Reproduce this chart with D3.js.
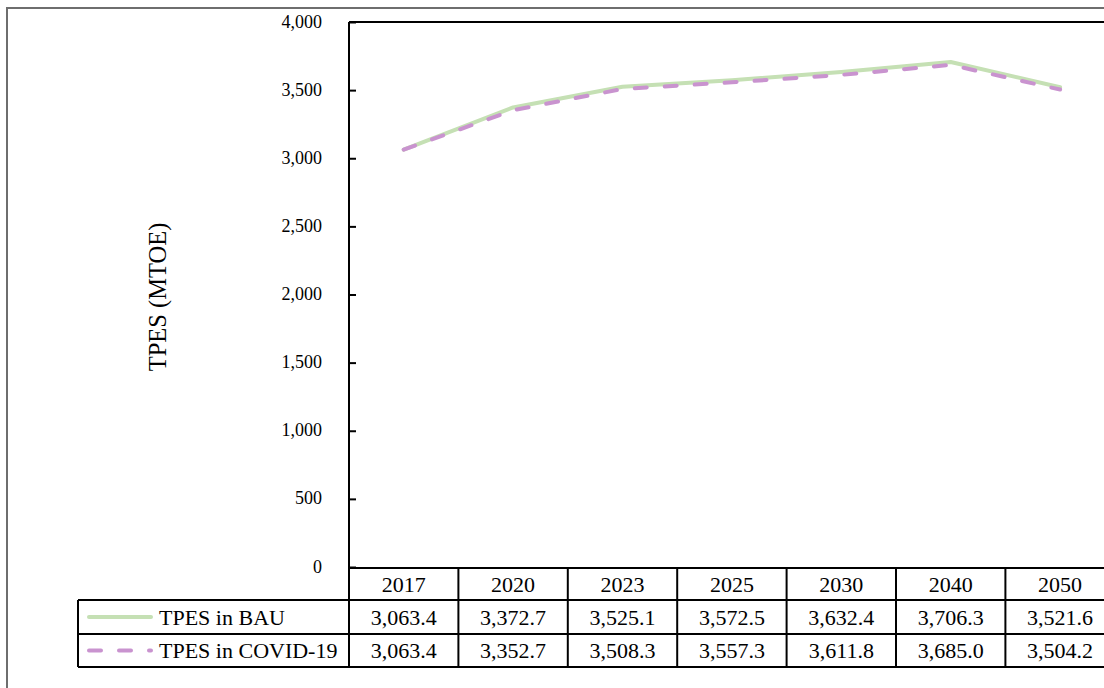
<!DOCTYPE html>
<html>
<head>
<meta charset="utf-8">
<script src="https://cdn.jsdelivr.net/npm/d3@7"></script>
<style>
  html, body { margin: 0; padding: 0; background: #fff; }
  svg { display: block; font-family: "Liberation Serif", "Times New Roman", serif; }
  svg text { font-family: "Liberation Serif", "Times New Roman", serif; }
</style>
</head>
<body>
<svg id="chart" width="1104" height="688"></svg>
<script>
// Total primary energy supply projections, MTOE
const years = ["2017", "2020", "2023", "2025", "2030", "2040", "2050"];
const bau = [3063.4, 3372.7, 3525.1, 3572.5, 3632.4, 3706.3, 3521.6];
const covid = [3063.4, 3352.7, 3508.3, 3557.3, 3611.8, 3685.0, 3504.2];
const seriesNames = ["TPES in BAU", "TPES in COVID-19"];
const yTicks = [0, 500, 1000, 1500, 2000, 2500, 3000, 3500, 4000];

const svg = d3.select("#chart");
const W = 1104, H = 688;

const plot = { left: 349, top: 22, bottom: 568, colW: 109.4 };
const rowY = [568, 600, 634, 667];
const legendLeft = 78;

const green = "#c5e0b4";
const purple = "#c993cf";

// outer frame
svg.append("rect")
  .attr("x", 7).attr("y", 8)
  .attr("width", W + 20).attr("height", H + 20)
  .attr("fill", "none").attr("stroke", "#6e6e6e").attr("stroke-width", 2);

const x = d3.scaleBand()
  .domain(years)
  .range([plot.left, plot.left + plot.colW * years.length])
  .paddingInner(0).paddingOuter(0);

const y = d3.scaleLinear().domain([0, 4000]).range([plot.bottom - 1, plot.top]);

// y axis with inward ticks
const yAxis = d3.axisLeft(y)
  .tickValues(yTicks)
  .tickSize(-7)
  .tickPadding(27)
  .tickFormat(d3.format(","));

const gy = svg.append("g")
  .attr("transform", `translate(${plot.left},0)`)
  .call(yAxis)
  .attr("font-size", 18)
  .attr("font-family", "Liberation Serif, serif");
gy.select(".domain").remove();
gy.selectAll(".tick line").attr("stroke", "#000").attr("stroke-width", 2);
gy.selectAll(".tick text")
  .attr("fill", "#000")
  .attr("font-size", 18)
  .attr("dy", "0.28em");

// plot frame: left axis and top border
svg.append("line")
  .attr("x1", plot.left).attr("x2", plot.left)
  .attr("y1", plot.top).attr("y2", rowY[3])
  .attr("stroke", "#000").attr("stroke-width", 2);
svg.append("line")
  .attr("x1", plot.left).attr("x2", W + 10)
  .attr("y1", plot.top).attr("y2", plot.top)
  .attr("stroke", "#000").attr("stroke-width", 2);

// axis title
svg.append("text")
  .attr("transform", `translate(166,297) rotate(-90)`)
  .attr("text-anchor", "middle")
  .attr("font-size", 24.5)
  .text("TPES (MTOE)");

// lines
const line = d3.line()
  .x((d, i) => x(years[i]) + x.bandwidth() / 2)
  .y(d => y(d));

svg.append("path")
  .datum(bau)
  .attr("d", line)
  .attr("fill", "none")
  .attr("stroke", green)
  .attr("stroke-width", 4)
  .attr("stroke-linejoin", "round")
  .attr("stroke-linecap", "round");

svg.append("path")
  .datum(covid)
  .attr("d", line)
  .attr("fill", "none")
  .attr("stroke", purple)
  .attr("stroke-width", 4)
  .attr("stroke-dasharray", "12,18")
  .attr("stroke-linecap", "round");

// data table
const table = svg.append("g").attr("font-size", 22);
const tableRight = plot.left + plot.colW * years.length;

// horizontal rules
[
  [plot.left, tableRight, rowY[0]],
  [legendLeft, tableRight, rowY[1]],
  [legendLeft, tableRight, rowY[2]],
  [legendLeft, tableRight, rowY[3]]
].forEach(([x1, x2, yy]) => {
  table.append("line")
    .attr("x1", x1).attr("x2", x2).attr("y1", yy).attr("y2", yy)
    .attr("stroke", "#000").attr("stroke-width", 2);
});

// vertical rules
table.append("line")
  .attr("x1", legendLeft).attr("x2", legendLeft)
  .attr("y1", rowY[1]).attr("y2", rowY[3])
  .attr("stroke", "#000").attr("stroke-width", 2);
years.forEach(yr => {
  const xx = x(yr) + x.bandwidth();
  table.append("line")
    .attr("x1", xx).attr("x2", xx)
    .attr("y1", rowY[0]).attr("y2", rowY[3])
    .attr("stroke", "#000").attr("stroke-width", 2);
});

// header: years
table.selectAll(".yr")
  .data(years)
  .join("text")
  .attr("x", d => x(d) + x.bandwidth() / 2)
  .attr("y", (rowY[0] + rowY[1]) / 2)
  .attr("dy", "0.35em")
  .attr("text-anchor", "middle")
  .text(d => d);

const fmt = d3.format(",.1f");
[bau, covid].forEach((vals, r) => {
  table.selectAll(".v" + r)
    .data(vals)
    .join("text")
    .attr("x", (d, i) => x(years[i]) + x.bandwidth() / 2)
    .attr("y", (rowY[r + 1] + rowY[r + 2]) / 2)
    .attr("dy", "0.35em")
    .attr("text-anchor", "middle")
    .text(d => fmt(d));
});

// legend keys in the table
const keys = [
  { name: seriesNames[0], color: green, dash: null },
  { name: seriesNames[1], color: purple, dash: "12,18" }
];
keys.forEach((k, r) => {
  const cy = (rowY[r + 1] + rowY[r + 2]) / 2;
  table.append("line")
    .attr("x1", 89).attr("x2", 151)
    .attr("y1", cy).attr("y2", cy)
    .attr("stroke", k.color)
    .attr("stroke-width", 4)
    .attr("stroke-linecap", "round")
    .attr("stroke-dasharray", k.dash);
  table.append("text")
    .attr("x", 159)
    .attr("y", cy)
    .attr("dy", "0.35em")
    .text(k.name);
});
</script>
</body>
</html>
